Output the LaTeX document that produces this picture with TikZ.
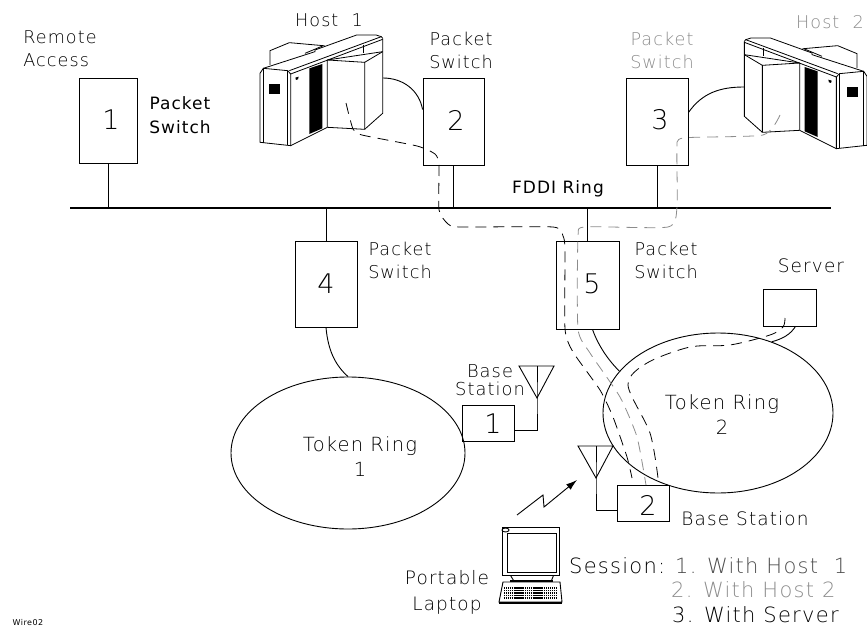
\documentclass[tikz,border=0pt]{standalone}
\usepackage{fontspec}
\setmainfont[LetterSpace=6]{DejaVu Sans ExtraLight}
\newfontfamily\heavyfont[LetterSpace=6]{DejaVu Sans}
\usetikzlibrary{arrows.meta,shapes.geometric}
\definecolor{palegray}{gray}{0.55}
\definecolor{midgray}{gray}{0.3}
\tikzset{
  lbl/.style={inner sep=0pt,font=\fontsize{17.6}{23}\selectfont,align=center},
  numlbl/.style={inner sep=0pt,font=\fontsize{27}{30}\selectfont},
  sesslbl/.style={inner sep=0pt,anchor=west,font=\fontsize{21}{24}\selectfont},
  unit/.style={draw,line width=0.9pt,inner sep=0pt},
  ring/.style={draw,ellipse,line width=0.9pt,inner sep=0pt},
  wire/.style={line width=0.9pt},
  session/.style={dash pattern=on 11pt off 7pt,line width=0.8pt},
}
% one host cabinet, drawn in a third of a point
\newcommand{\hostbox}{%
\draw (60,220) -- (60,427) -- (152,437) -- (152,222) -- (143,212) -- (70,205) -- cycle;
\draw (70,208) -- (70,428);
\draw (143,212) -- (143,435);
\draw (152,437) -- (262,382) -- (262,180);
\draw (152,222) -- (428,118);
\draw (148,212) -- (424,110) -- (428,115);
\draw (70,205) -- (225,155) -- (225,150) -- (350,105) -- (408,105) -- (424,110);
\draw (262,180) -- (374,187) -- (374,388) -- (262,382);
\draw (374,187) -- (428,155);
\draw (428,115) -- (428,340) -- (374,388);
\draw (262,180) -- (428,155);
\draw (370,135) -- (370,158);
\draw (90,195) -- (90,152) -- (148,128) -- (250,137) -- (195,160);
\fill (208,205) -- (247,192) -- (247,385) -- (208,402) -- cycle;
\fill (87,253) rectangle (120,282);
\fill (166,233) -- (176,230) -- (174,238) -- (168,240) -- cycle;
}
\begin{document}
\begin{tikzpicture}[x=1pt,y=-1pt]
\useasboundingbox (0,0) rectangle (867,629);

% FDDI bus
\coordinate (busl) at (70,208);
\coordinate (busr) at (831,208);
\draw [line width=2.4pt] (busl) -- (busr);
\node (fddi) [lbl,font=\heavyfont\fontsize{17}{20}\selectfont] at (558,189) {FDDI Ring};

% packet switches
\node (sw1) [unit,minimum width=58pt,minimum height=85pt] at (108,120.5) {};
\node (sw2) [unit,minimum width=61pt,minimum height=87pt] at (453.5,121.5) {};
\node (sw3) [unit,minimum width=62pt,minimum height=87pt] at (657,121.5) {};
\node (sw4) [unit,minimum width=62pt,minimum height=86pt] at (326,284) {};
\node (sw5) [unit,minimum width=63pt,minimum height=88pt] at (587.5,285) {};
\node (num1) [numlbl] at (111,120) {1};
\node (num2) [numlbl] at (456,120) {2};
\node (num3) [numlbl] at (660,120) {3};
\node (num4) [numlbl] at (326,284) {4};
\node (num5) [numlbl] at (592,284) {5};

\draw [wire] (sw1.south) -- (sw1.south |- busl);
\draw [wire] (sw2.south) -- (sw2.south |- busl);
\draw [wire] (sw3.south) -- (sw3.south |- busl);
\draw [wire] (sw4.north) -- (sw4.north |- busl);
\draw [wire] (sw5.north) -- (sw5.north |- busl);

\node (lremote) [lbl,align=left] at (60,49) {Remote\\Access};
\node (lps1) [lbl,font=\heavyfont\fontsize{17}{24}\selectfont] at (180,115) {Packet\\Switch};
\node (lps2) [lbl] at (461,50) {Packet\\Switch};
\node (lps3) [lbl,text=palegray] at (662,50) {Packet\\Switch};
\node (lps4) [lbl] at (400,260) {Packet\\Switch};
\node (lps5) [lbl] at (666,260) {Packet\\Switch};
\node (lhost1) [lbl] at (329,20) {Host\ \ 1};
\node (lhost2) [lbl,text=palegray] at (830,22) {Host\ \ 2};

% hosts
\begin{scope}[shift={(240,0)},x=0.3333pt,y=-0.3333pt,line width=0.8pt]
\hostbox
\end{scope}
\begin{scope}[shift={(887,3)},x=-0.3333pt,y=-0.3333pt,line width=0.8pt]
\hostbox
\end{scope}
\coordinate (host1port) at (383,78);
\coordinate (host2port) at (744,87);
\draw [wire] (host1port) to[out=0,in=100] ([yshift=12pt]sw2.west);
\draw [wire] (host2port) to[out=180,in=55] ([yshift=9pt]sw3.east);

% token rings
\node (ring1) [ring,minimum width=234pt,minimum height=152pt] at (348,453) {};
\node (ring2) [ring,minimum width=230pt,minimum height=160pt] at (718,413) {};
\node (lring1) [lbl,font=\fontsize{19.5}{25}\selectfont] at (360,457) {Token Ring\\1};
\node (lring2) [lbl,font=\fontsize{19.5}{25}\selectfont] at (722,415) {Token Ring\\2};
\draw [wire] (sw4.south) .. controls (328,350) and (335,365) .. (ring1.90);
\draw [wire] ([xshift=5pt]sw5.south) .. controls (598,345) and (608,360) .. (ring2.157);

% server
\node (srv) [unit,minimum width=53pt,minimum height=37pt] at (789.5,307.5) {};
\node (lsrv) [lbl,font=\fontsize{18.5}{23}\selectfont] at (811,266) {Server};
\draw [wire] ([xshift=6pt]srv.south) .. controls (790,335) and (782,339) .. (ring2.53);

% base stations
\node (base1) [unit,minimum width=52pt,minimum height=36pt] at (488,423) {};
\node (base2) [unit,minimum width=52pt,minimum height=36pt] at (643,503) {};
\node (nbase1) [numlbl] at (493,424) {1};
\node (nbase2) [numlbl] at (648,505) {2};
\node (lbase1) [lbl,font=\fontsize{17.8}{18}\selectfont] at (490,380) {Base\\Station};
\node (lbase2) [lbl,font=\fontsize{18.5}{23}\selectfont] at (745,519) {Base Station};

\coordinate (ant1) at (537,398);
\coordinate (ant2) at (596,478);
\draw [wire] (ant1) -- (519,366) -- (554,366) -- cycle;
\draw [wire] (537,366) -- (ant1) |- (base1.east |- 0,430);
\draw [wire] (ant2) -- (578,446) -- (613,446) -- cycle;
\draw [wire] (596,446) -- (ant2) |- (base2.west |- 0,510);

% laptop
\node (lcd) [unit,minimum width=57pt,minimum height=48pt] at (530.5,551) {};
\node (lcdin) [unit,minimum width=49pt,minimum height=39pt] at (531.5,552.5) {};
\node (cam) [unit,ellipse,minimum width=7pt,minimum height=4pt] at (505.5,530) {};
\draw [wire] ([xshift=-20pt]lcd.south) -- ++(3,5) -- ++(38,0) -- ++(2,-5);
\draw [line width=1.6pt] (510,581) -- (553,581);
\draw [wire] (503,582) -- (560,582) -- (562,602) -- (499,602) -- cycle;
\draw [line width=1.6pt] (499,603) -- (562,603);
\foreach \rowy in {588,590.5,593,595.5,598}{
  \draw [line width=1.7pt,dash pattern=on 1.4pt off 0.5pt] (504,\rowy) -- (546,\rowy);
  \draw [line width=1.7pt,dash pattern=on 1.4pt off 0.5pt] (548,\rowy) -- (557,\rowy);
}
\node (lport) [lbl,font=\fontsize{18.5}{26}\selectfont] at (447,592) {Portable\\Laptop};

% radio link
\coordinate (bolta) at (517,515);
\coordinate (boltb) at (577,480);
\draw [wire,-{Latex[length=11pt,width=7pt]}] (bolta) -- (543,495) -- (544,507) -- (boltb);

% sessions
\coordinate (ses1a) at (346,103);
\coordinate (ses1b) at (632,478);
\coordinate (ses2a) at (780,115);
\coordinate (ses2b) at (646,485);
\coordinate (ses3a) at (785,318);
\coordinate (ses3b) at (658,478);
\draw [session] plot[smooth,tension=0.35] coordinates {(ses1a) (353,129) (362,135) (417,146) (435,154)
  (439,165) (439,210) (448,224) (460,227) (553,227) (563,236) (565,250) (565,329) (573,352) (600,390) (613,417) (627,457) (ses1b)};
\draw [session,palegray] plot[smooth,tension=0.35] coordinates {(ses2a) (763,135) (683,138) (677,150) (677,207)
  (668,227) (585,227) (578,238) (578,329) (590,353) (620,397) (637,437) (ses2b)};
\draw [session] plot[smooth,tension=0.5] coordinates {(ses3a) (783,327) (770,335) (730,345) (690,347) (647,363) (628,385) (650,433) (ses3b)};

% session list
\node (lsess) [sesslbl] at (569,566) {Session:};
\node (lsess1) [sesslbl,text=midgray] at (675,566) {1. With Host\ \ 1};
\node (lsess2) [sesslbl,text=palegray] at (671,590) {2. With Host 2};
\node (lsess3) [sesslbl] at (672,615) {3. With Server};

\node (lwire) [inner sep=0pt,font=\heavyfont\fontsize{8}{10}\selectfont] at (28,623) {Wire02};
\end{tikzpicture}
\end{document}
